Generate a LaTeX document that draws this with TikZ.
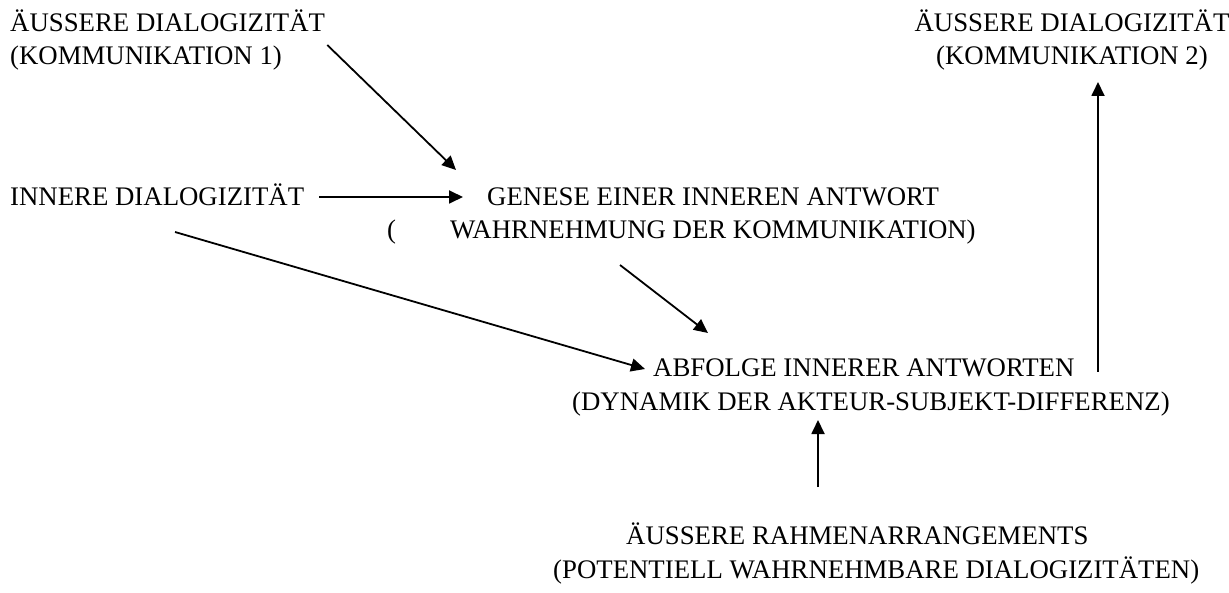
\documentclass[tikz,border=0pt]{standalone}
\usepackage{fontspec}
\setmainfont{Liberation Serif}
\usepackage{tikz}
\usetikzlibrary{arrows.meta}

\tikzset{
  lbl/.style={inner sep=0pt, align=left, font=\fontsize{26.8}{33.5}\selectfont},
  arr/.style={-{Triangle[length=14pt,width=13pt]}, line width=1.8pt}
}

\begin{document}
\begin{tikzpicture}[x=1pt,y=-1pt]
  \useasboundingbox (0,0) rectangle (1229,593);
  % texts
  \node[lbl, anchor=base west] (aussen1) at (10,65) {ÄUSSERE DIALOGIZITÄT\\(KOMMUNIKATION 1)};
  \node[lbl, align=center, anchor=base] (aussen2) at (1072,65) {ÄUSSERE DIALOGIZITÄT\\(KOMMUNIKATION 2)};
  \node[lbl, anchor=base west] (innere) at (10,206) {INNERE DIALOGIZITÄT};
  \node[lbl, anchor=base west] (genese) at (387,239) {\hspace*{100pt}GENESE EINER INNEREN ANTWORT\\(\hspace{54pt}WAHRNEHMUNG DER KOMMUNIKATION)};
  \node[lbl, anchor=base west] (abfolge) at (572,410) {\hspace*{81pt}ABFOLGE INNERER ANTWORTEN\\(DYNAMIK DER AKTEUR-SUBJEKT-DIFFERENZ)};
  \node[lbl, anchor=base west] (rahmen) at (553,578) {\hspace*{73pt}ÄUSSERE RAHMENARRANGEMENTS\\(POTENTIELL WAHRNEHMBARE DIALOGIZITÄTEN)};
  % arrows
  \draw[arr] ([shift={(2,-20)}]aussen1.base east) -- ([shift={(69,-69)}]genese.base west);
  \draw[arr] ([shift={(15,-9)}]innere.base east) -- ([shift={(76,-42)}]genese.base west);
  \draw[arr] ([shift={(165,26)}]innere.base west) -- ([shift={(73,-41)}]abfolge.base west);
  \draw[arr] ([shift={(233,26)}]genese.base west) -- ([shift={(136,-77)}]abfolge.base west);
  \draw[arr] ([shift={(526,-38)}]abfolge.base west) -- ([shift={(26,17)}]aussen2.base);
  \draw[arr] ([shift={(265,-91)}]rahmen.base west) -- ([shift={(246,10)}]abfolge.base west);
\end{tikzpicture}
\end{document}
